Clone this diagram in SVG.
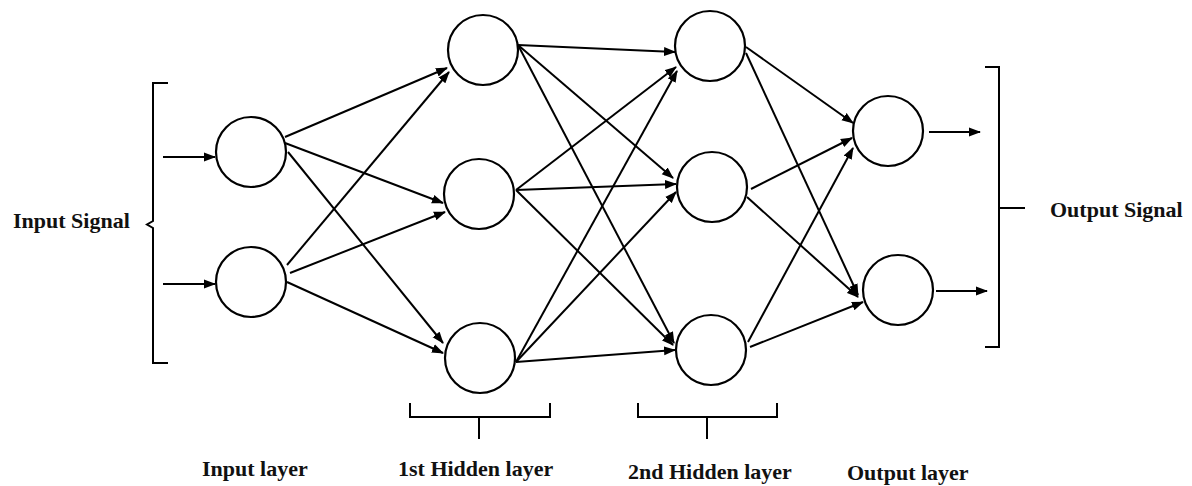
<svg xmlns="http://www.w3.org/2000/svg" width="1192" height="486" viewBox="0 0 1192 486">
  <defs>
    <marker id="arrow" markerUnits="userSpaceOnUse" markerWidth="12" markerHeight="10" refX="11" refY="5" orient="auto" viewBox="0 0 12 10">
      <path d="M0,0.5 L12,5 L0,9.5 Z" fill="#000"/>
    </marker>
    <style>
      .node { fill: #fff; stroke: #000; stroke-width: 2.2; }
      .edge { stroke: #000; stroke-width: 2; fill: none; marker-end: url(#arrow); }
      .brace { stroke: #000; stroke-width: 2; fill: none; }
      .label { font-family: "Liberation Serif", "Times New Roman", serif; font-weight: bold; font-size: 22px; fill: #111; }
    </style>
  </defs>
  <rect width="1192" height="486" fill="#fff"/>

  <!-- connectors -->
  <g id="connectors">
    <!-- incoming signals -->
    <line class="edge" x1="163" y1="157" x2="215" y2="157"/>
    <line class="edge" x1="163" y1="284" x2="215" y2="284"/>
    <!-- input layer to 1st hidden layer -->
    <line class="edge" x1="285" y1="137" x2="447" y2="68"/>
    <line class="edge" x1="285" y1="143" x2="443" y2="203"/>
    <line class="edge" x1="288" y1="152" x2="443" y2="343"/>
    <line class="edge" x1="287" y1="265" x2="449" y2="72"/>
    <line class="edge" x1="290" y1="273" x2="445" y2="212"/>
    <line class="edge" x1="287" y1="282" x2="443" y2="353"/>
    <!-- 1st hidden layer to 2nd hidden layer -->
    <line class="edge" x1="518" y1="45" x2="675" y2="52"/>
    <line class="edge" x1="518" y1="45" x2="673" y2="178"/>
    <line class="edge" x1="518" y1="45" x2="674" y2="343"/>
    <line class="edge" x1="516" y1="190" x2="676" y2="67"/>
    <line class="edge" x1="516" y1="190" x2="676" y2="184"/>
    <line class="edge" x1="516" y1="190" x2="673" y2="345"/>
    <line class="edge" x1="516" y1="362" x2="677" y2="71"/>
    <line class="edge" x1="516" y1="362" x2="676" y2="192"/>
    <line class="edge" x1="516" y1="362" x2="675" y2="350"/>
    <!-- 2nd hidden layer to output layer -->
    <line class="edge" x1="746" y1="47" x2="853" y2="123"/>
    <line class="edge" x1="746" y1="53" x2="858" y2="295"/>
    <line class="edge" x1="751" y1="189" x2="852" y2="138"/>
    <line class="edge" x1="747" y1="197" x2="858" y2="297"/>
    <line class="edge" x1="748" y1="342" x2="853" y2="148"/>
    <line class="edge" x1="750" y1="347" x2="863" y2="302"/>
    <!-- outgoing signals -->
    <line class="edge" x1="929" y1="132" x2="980" y2="132"/>
    <line class="edge" x1="936" y1="291" x2="987" y2="291"/>
  </g>

  <!-- input layer -->
  <g id="input-1"><circle class="node" cx="251" cy="152" r="35"/></g>
  <g id="input-2"><circle class="node" cx="251" cy="282" r="35"/></g>

  <!-- 1st hidden layer -->
  <g id="hidden1-1"><circle class="node" cx="483" cy="50" r="35"/></g>
  <g id="hidden1-2"><circle class="node" cx="479" cy="194" r="35"/></g>
  <g id="hidden1-3"><circle class="node" cx="480" cy="358" r="35"/></g>

  <!-- 2nd hidden layer -->
  <g id="hidden2-1"><circle class="node" cx="710" cy="46" r="35"/></g>
  <g id="hidden2-2"><circle class="node" cx="712" cy="187" r="35"/></g>
  <g id="hidden2-3"><circle class="node" cx="711" cy="350" r="35"/></g>

  <!-- output layer -->
  <g id="output-1"><circle class="node" cx="888" cy="131" r="35"/></g>
  <g id="output-2"><circle class="node" cx="898" cy="290" r="35"/></g>

  <!-- input signal brace -->
  <g id="input-signal">
    <path class="brace" d="M168,83 L153,83 L153,221 L147,224.5 L153,228 L153,363 L168,363"/>
    <text class="label" x="13" y="228">Input Signal</text>
  </g>

  <!-- output signal brace -->
  <g id="output-signal">
    <path class="brace" d="M985,67 L999,67 L999,347 L985,347"/>
    <path class="brace" d="M999,208 L1025,208"/>
    <text class="label" x="1050" y="217">Output Signal</text>
  </g>

  <!-- hidden layer braces -->
  <g id="hidden1-brace">
    <path class="brace" d="M410,403 L410,417 L550,417 L550,403 M479,417 L479,439"/>
  </g>
  <g id="hidden2-brace">
    <path class="brace" d="M638,403 L638,417 L777,417 L777,403 M707,417 L707,439"/>
  </g>

  <!-- layer captions -->
  <g id="captions">
    <text class="label" x="202" y="476">Input layer</text>
    <text class="label" x="398" y="476">1st Hidden layer</text>
    <text class="label" x="628" y="479">2nd Hidden layer</text>
    <text class="label" x="847" y="480">Output layer</text>
  </g>
</svg>
